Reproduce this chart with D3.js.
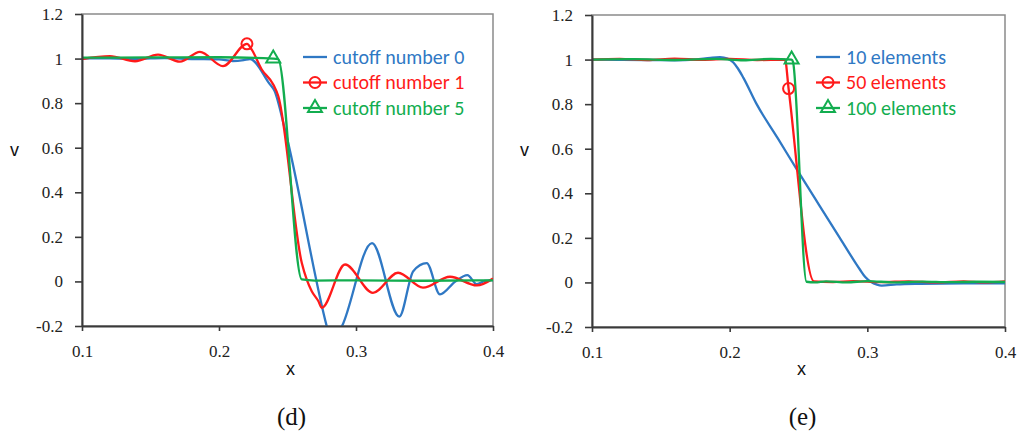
<!DOCTYPE html>
<html>
<head>
<meta charset="utf-8">
<script src="https://cdn.jsdelivr.net/npm/d3@7"></script>
<style>
  body { margin: 0; background: #fff; }
</style>
</head>
<body>
<svg id="fig" width="1019" height="439"></svg>
<script>
// ---- axis ticks shared by both panels ----
const xTicks = [0.1, 0.2, 0.3, 0.4];
const yTicks = [-0.2, 0, 0.2, 0.4, 0.6, 0.8, 1, 1.2];

// ---- panel (d): effect of the cutoff number ----
const cutoffNames = ["cutoff number 0", "cutoff number 1", "cutoff number 5"];
const cutoff0 = [
  [0.1, 1.0], [0.12, 1.001], [0.14, 0.999], [0.16, 1.002], [0.18, 0.998], [0.2, 0.996],
  [0.21, 0.989], [0.218, 0.993], [0.2226, 0.998], [0.2365, 0.89], [0.2405, 0.855],
  [0.2482, 0.68], [0.2786, -0.2], [0.2821, -0.28], [0.2898, -0.2], [0.3117, 0.172],
  [0.3316, -0.158], [0.3418, 0.046], [0.3516, 0.082], [0.3613, -0.058], [0.3725, 0.0],
  [0.3813, 0.028], [0.3881, -0.012], [0.394, 0.002], [0.4, 0.006]
];
const cutoff1 = [
  [0.1, 0.998], [0.1204, 1.011], [0.1387, 0.988], [0.1555, 1.018], [0.1715, 0.986],
  [0.1861, 1.03], [0.2029, 0.966], [0.2204, 1.066], [0.2239, 1.04], [0.2312, 0.951],
  [0.2396, 0.884], [0.2433, 0.831], [0.2604, 0.084], [0.264, 0.009], [0.2677, -0.044],
  [0.2725, -0.088], [0.275, -0.118], [0.292, 0.076], [0.3124, -0.051], [0.3307, 0.039],
  [0.3489, -0.028], [0.3686, 0.021], [0.3883, -0.018], [0.4, 0.013]
];
const cutoff5 = [
  [0.1, 1.004], [0.15, 1.005], [0.2, 1.006], [0.2396, 1.0], [0.2431, 0.998],
  [0.2604, 0.009], [0.27, 0.004], [0.3, 0.005], [0.35, 0.003], [0.4, 0.005]
];
// index of the point that carries the series marker
const cutoffMarks = [null, 7, 3];

// ---- panel (e): effect of the number of elements ----
const elemNames = ["10 elements", "50 elements", "100 elements"];
const elem10 = [
  [0.1, 1.0], [0.12, 0.999], [0.14, 0.998], [0.16, 0.997], [0.175, 1.0], [0.186, 1.008],
  [0.193, 1.011], [0.1985, 1.004], [0.2025, 0.988], [0.206, 0.96], [0.21, 0.918],
  [0.2196, 0.8], [0.235, 0.646], [0.25, 0.495], [0.265, 0.347], [0.28, 0.2],
  [0.2946, 0.058], [0.2985, 0.024], [0.3025, 0.003], [0.307, -0.01], [0.3104, -0.014],
  [0.3213, -0.009], [0.3382, -0.006], [0.37, -0.004], [0.4, -0.004]
];
const elem50 = [
  [0.1, 1.0], [0.12, 1.003], [0.14, 0.998], [0.16, 1.004], [0.18, 0.999], [0.2, 1.003],
  [0.22, 0.998], [0.2402, 1.0], [0.2428, 0.87], [0.2612, 0.005], [0.275, 0.002],
  [0.29, 0.006], [0.31, 0.001], [0.33, 0.005], [0.35, 0.0], [0.37, 0.005], [0.385, 0.0],
  [0.4, 0.005]
];
const elem100 = [
  [0.1, 1.0], [0.13, 1.002], [0.16, 0.998], [0.19, 1.003], [0.21, 0.997], [0.23, 1.003],
  [0.245, 1.0], [0.246, 0.99], [0.2558, 0.003], [0.262, 0.0], [0.27, 0.005], [0.285, 0.0],
  [0.3, 0.006], [0.32, 0.0], [0.34, 0.004], [0.36, 0.001], [0.38, 0.003], [0.4, 0.002]
];
const elemMarks = [null, 8, 6];

// ---- styling ----
const colors = ["#2f78c4", "#ff1a1a", "#12ad4f"];
const markerKinds = ["none", "circle", "triangle"];
const SERIF = "'Liberation Serif', 'Times New Roman', serif";
const SANS = "'Liberation Sans', Arial, sans-serif";
const LEGEND_FONT = "Carlito, Calibri, Lato, sans-serif";

const panels = [
  { id: "d", tag: "(d)", left: 82, right: 493, top: 14, bottom: 326,
    series: [cutoff0, cutoff1, cutoff5], names: cutoffNames, marks: cutoffMarks,
    legendX: 303, legendY: 57 },
  { id: "e", tag: "(e)", left: 592, right: 1005, top: 15, bottom: 327,
    series: [elem10, elem50, elem100], names: elemNames, marks: elemMarks,
    legendX: 816, legendY: 57 }
];

const svg = d3.select("#fig");

function drawMarker(g, kind, cx, cy, color) {
  if (kind === "circle") {
    g.append("circle").attr("cx", cx).attr("cy", cy).attr("r", 5.5)
      .attr("fill", "none").attr("stroke", color).attr("stroke-width", 2);
  } else if (kind === "triangle") {
    g.append("path")
      .attr("d", d3.symbol(d3.symbolTriangle, 85)())
      .attr("transform", `translate(${cx},${cy})`)
      .attr("fill", "none").attr("stroke", color).attr("stroke-width", 2);
  }
}

panels.forEach(p => {
  const x = d3.scaleLinear().domain([0.1, 0.4]).range([p.left, p.right]);
  const y = d3.scaleLinear().domain([-0.2, 1.2]).range([p.bottom, p.top]);
  const g = svg.append("g");

  const clipId = "plot-" + p.id;
  g.append("clipPath").attr("id", clipId).append("rect")
    .attr("x", p.left).attr("y", p.top)
    .attr("width", p.right - p.left).attr("height", p.bottom - p.top);

  // plot-area frame
  g.append("rect")
    .attr("x", p.left).attr("y", p.top)
    .attr("width", p.right - p.left).attr("height", p.bottom - p.top)
    .attr("fill", "none").attr("stroke", "#8a8a8a").attr("stroke-width", 1.5);

  // curves
  const line = d3.line().x(d => x(d[0])).y(d => y(d[1])).curve(d3.curveMonotoneX);
  p.series.forEach((s, i) => {
    g.append("path").attr("d", line(s))
      .attr("fill", "none").attr("stroke", colors[i]).attr("stroke-width", 2.3)
      .attr("stroke-linejoin", "round")
      .attr("clip-path", `url(#${clipId})`);
  });
  p.series.forEach((s, i) => {
    const k = p.marks[i];
    if (k !== null) drawMarker(g, markerKinds[i], x(s[k][0]), y(s[k][1]), colors[i]);
  });

  // axes
  const xAxis = g.append("g").attr("transform", `translate(0,${p.bottom})`)
    .call(d3.axisBottom(x).tickValues(xTicks).tickFormat(d => String(d))
      .tickSize(5).tickSizeOuter(0).tickPadding(14));
  const yAxis = g.append("g").attr("transform", `translate(${p.left},0)`)
    .call(d3.axisLeft(y).tickValues(yTicks).tickFormat(d => String(d))
      .tickSize(7).tickSizeOuter(0).tickPadding(12));
  [xAxis, yAxis].forEach(a => {
    a.attr("font-family", null).attr("font-size", null);
    a.select(".domain").attr("stroke", "#3a3a3a").attr("stroke-width", 2);
    a.selectAll(".tick line").attr("stroke", "#3a3a3a").attr("stroke-width", 1.6);
    a.selectAll(".tick text")
      .style("font-family", SERIF).style("font-size", "17px").attr("fill", "#222");
  });

  // axis titles and panel tag
  g.append("text").attr("x", p.left - 72).attr("y", 156)
    .style("font-family", SANS).style("font-size", "18px")
    .attr("fill", "#111").text("v");
  g.append("text").attr("x", (p.left + p.right) / 2 + 3).attr("y", 375)
    .attr("text-anchor", "middle")
    .style("font-family", SANS).style("font-size", "18px")
    .attr("fill", "#111").text("x");
  g.append("text").attr("x", (p.left + p.right) / 2 + 4).attr("y", 425)
    .attr("text-anchor", "middle")
    .style("font-family", SERIF).style("font-size", "25px")
    .attr("fill", "#111").text(p.tag);

  // legend
  p.names.forEach((name, i) => {
    const ly = p.legendY + i * 25.5;
    const lg = g.append("g");
    lg.append("line").attr("x1", p.legendX).attr("x2", p.legendX + 24)
      .attr("y1", ly).attr("y2", ly).attr("stroke", colors[i]).attr("stroke-width", 2.3);
    drawMarker(lg, markerKinds[i], p.legendX + 12, ly, colors[i]);
    lg.append("text").attr("x", p.legendX + 30).attr("y", ly + 6.5)
      .style("font-family", LEGEND_FONT).style("font-size", "20px")
      .attr("fill", colors[i]).text(name);
  });
});
</script>
</body>
</html>
